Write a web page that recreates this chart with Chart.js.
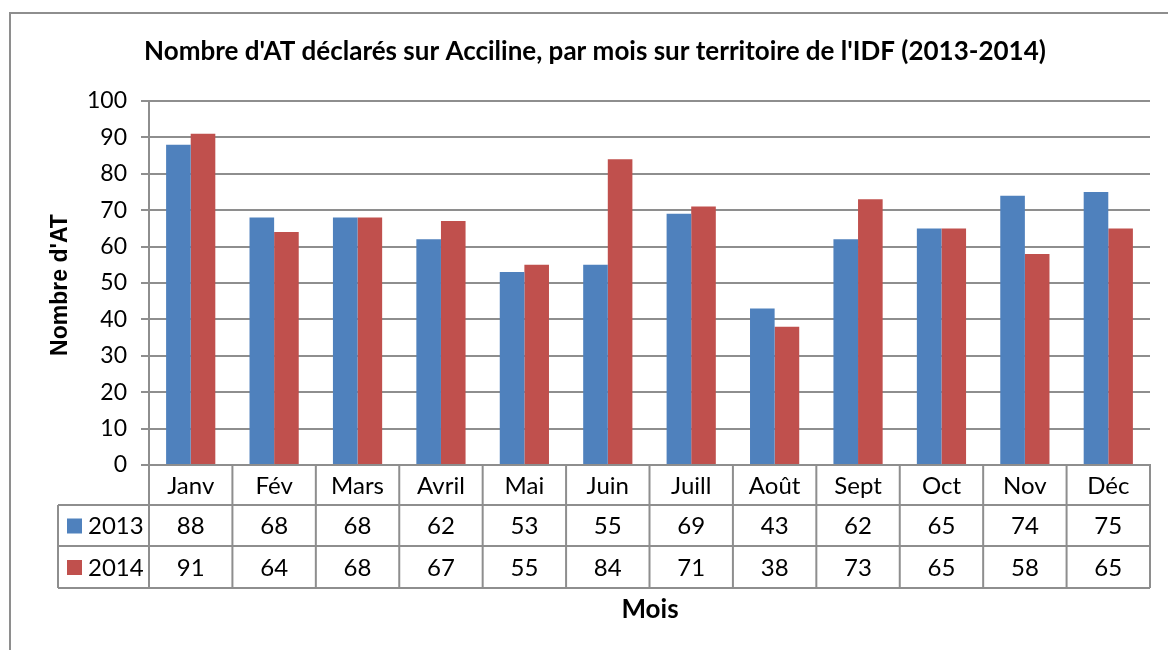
<!DOCTYPE html>
<html>
<head>
<meta charset="utf-8">
<script src="https://cdn.jsdelivr.net/npm/chart.js@4"></script>
<style>
  body { margin: 0; background: #fff; }
</style>
</head>
<body>
<canvas id="atChart" width="1168" height="650"></canvas>
<script>
let months = ['Janv', 'Fév', 'Mars', 'Avril', 'Mai', 'Juin', 'Juill', 'Août', 'Sept', 'Oct', 'Nov', 'Déc'];
let at2013 = [88, 68, 68, 62, 53, 55, 69, 43, 62, 65, 74, 75];
let at2014 = [91, 64, 68, 67, 55, 84, 71, 38, 73, 65, 58, 65];
let seriesNames = ['2013', '2014'];
let seriesColors = ['#4F81BD', '#C0504D'];

let chartTitle = "Nombre d'AT déclarés sur Acciline, par mois sur territoire de l'IDF (2013-2014)";
let yTitle = "Nombre d'AT";
let xTitle = 'Mois';

const lineGrey = '#8e8e8e';
const font = 'Lato';

Chart.defaults.font.family = font;
Chart.defaults.color = '#000';

// white background + outer frame
const frame = {
    id: 'frame',
    beforeDraw(chart) {
        let ctx = chart.ctx;
        ctx.save();
        ctx.fillStyle = '#fff';
        ctx.fillRect(0, 0, chart.width, chart.height);
        ctx.strokeStyle = lineGrey;
        ctx.lineWidth = 2;
        ctx.strokeRect(10, 13, chart.width + 20, chart.height + 20);
        ctx.restore();
    }
};

// titles and the data table under the plot
const dataTable = {
    id: 'dataTable',
    afterDraw(chart) {
        let ctx = chart.ctx;
        let area = chart.chartArea;
        let x = chart.scales.x;
        let colW = (area.right - area.left) / months.length;
        let tableLeft = 58;
        let rows = [area.bottom, area.bottom + 40, area.bottom + 81, area.bottom + 123];

        ctx.save();
        ctx.strokeStyle = lineGrey;
        ctx.lineWidth = 2;
        ctx.beginPath();
        for (let r = 1; r < rows.length; r++) {
            ctx.moveTo(tableLeft, rows[r]);
            ctx.lineTo(area.right, rows[r]);
        }
        ctx.moveTo(tableLeft, rows[1]);
        ctx.lineTo(tableLeft, rows[3]);
        for (let i = 0; i <= months.length; i++) {
            let xe = area.left + i * colW;
            ctx.moveTo(xe, rows[0]);
            ctx.lineTo(xe, rows[3]);
        }
        ctx.stroke();

        ctx.fillStyle = '#000';
        ctx.font = '24px ' + font;
        ctx.textAlign = 'center';
        ctx.textBaseline = 'middle';
        let datasets = chart.data.datasets;
        months.forEach((m, i) => {
            let cx = x.getPixelForValue(i);
            ctx.fillText(m, cx, (rows[0] + rows[1]) / 2 + 1);
            datasets.forEach((ds, d) => {
                ctx.fillText(String(ds.data[i]), cx, (rows[d + 1] + rows[d + 2]) / 2 + 1);
            });
        });

        // legend keys in the first column
        datasets.forEach((ds, d) => {
            let cy = (rows[d + 1] + rows[d + 2]) / 2;
            ctx.fillStyle = ds.backgroundColor;
            ctx.fillRect(67, cy - 7, 15, 15);
            ctx.fillStyle = '#000';
            ctx.textAlign = 'left';
            ctx.fillText(ds.label, 88, cy + 1);
        });

        // chart title
        ctx.textAlign = 'center';
        ctx.font = 'bold 26px ' + font;
        ctx.fillText(chartTitle, 595, 52);
        // x axis title
        ctx.fillText(xTitle, 650, 610);
        // y axis title
        ctx.font = 'bold 23px "Liberation Sans"';
        ctx.translate(61, 285);
        ctx.rotate(-Math.PI / 2);
        ctx.fillText(yTitle, 0, 0);
        ctx.restore();
    }
};

let ctx = document.getElementById('atChart').getContext('2d');
let chart = new Chart(ctx, {
    type: 'bar',
    data: {
        labels: months,
        datasets: [
            { label: seriesNames[0], data: at2013, backgroundColor: seriesColors[0] },
            { label: seriesNames[1], data: at2014, backgroundColor: seriesColors[1] }
        ]
    },
    options: {
        responsive: false,
        animation: false,
        layout: { padding: { left: 0, top: 101, right: 18, bottom: 0 } },
        datasets: { bar: { barPercentage: 1, categoryPercentage: 0.59 } },
        plugins: {
            legend: { display: false },
            title: { display: false },
            tooltip: { enabled: false }
        },
        scales: {
            x: {
                ticks: { display: false },
                grid: { display: false, drawTicks: false },
                border: { display: true, color: lineGrey, width: 2 },
                afterFit: s => { s.height = 185; }
            },
            y: {
                min: 0,
                max: 100,
                ticks: { stepSize: 10, padding: 14, font: { size: 23 }, color: '#000' },
                grid: { color: lineGrey, lineWidth: 2, tickLength: 8 },
                border: { display: true, color: lineGrey, width: 2 },
                afterFit: s => { s.width = 149; }
            }
        }
    },
    plugins: [frame, dataTable]
});
</script>
</body>
</html>
